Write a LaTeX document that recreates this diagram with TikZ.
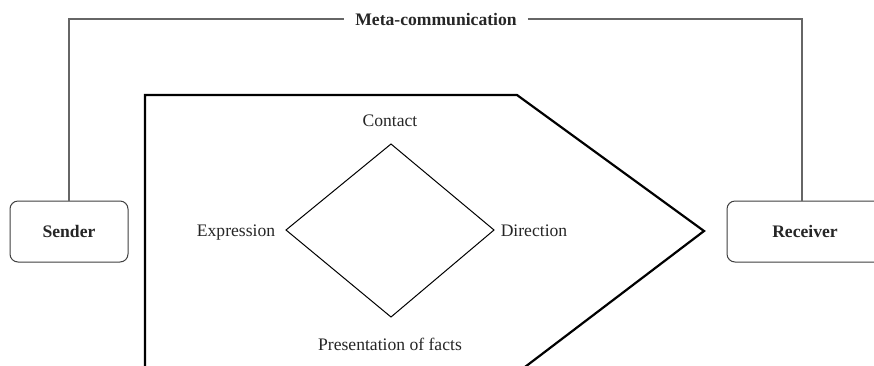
\documentclass[tikz,border=0pt]{standalone}
\usepackage{fontspec}
\setmainfont{Liberation Serif}
\begin{document}
\begin{tikzpicture}[x=1pt,y=-1pt,
  party/.style={draw=black!75, line width=1pt, rounded corners=8pt,
    minimum width=118pt, minimum height=61pt, inner sep=0pt,
    font=\fontsize{17.6}{20}\selectfont\bfseries, text=black!85},
  lbl/.style={font=\fontsize{17.6}{20}\selectfont, text=black!85, inner sep=0pt},
  metaline/.style={draw=black!60, line width=1.3pt},
  frame/.style={draw=black, line width=2.2pt, line join=miter},
  facet/.style={draw=black, line width=1pt}]
\clip (0,0) rectangle (874,365);
\fill[white] (0,0) rectangle (874,365);

% communicating parties
\node[party] (sender) at (69,231.5) {Sender};
\node[party, minimum width=156pt] (receiver) at (805,231.5) {Receiver};

% meta-communication loop over the top
\node[lbl, font=\fontsize{17.6}{20}\selectfont\bfseries, inner xsep=11pt, inner ysep=2pt] (meta) at (436,19) {Meta-communication};
\draw[metaline] (sender.north) |- (meta.west);
\draw[metaline] (meta.east) -| ([xshift=-3pt]receiver.north);

% message frame (open at the bottom)
\coordinate (fbl) at (145,370);
\coordinate (ftl) at (145,95);
\coordinate (ftr) at (517,95);
\coordinate (ftip) at (704,231);
\coordinate (fbr) at (521,370);
\draw[frame] (fbl) -- (ftl) -- (ftr) -- (ftip) -- (fbr);

% four facets of a message
\coordinate (dtop) at (391,144);
\coordinate (dright) at (494,230);
\coordinate (dbot) at (391,317);
\coordinate (dleft) at (286,230);
\draw[facet] (dtop) -- (dright) -- (dbot) -- (dleft) -- cycle;

\node[lbl] (contact) at (390,121) {Contact};
\node[lbl] (expression) at (236,233) {Expression};
\node[lbl] (direction) at (534,231) {Direction};
\node[lbl] (facts) at (390,344) {Presentation of facts};
\end{tikzpicture}
\end{document}
